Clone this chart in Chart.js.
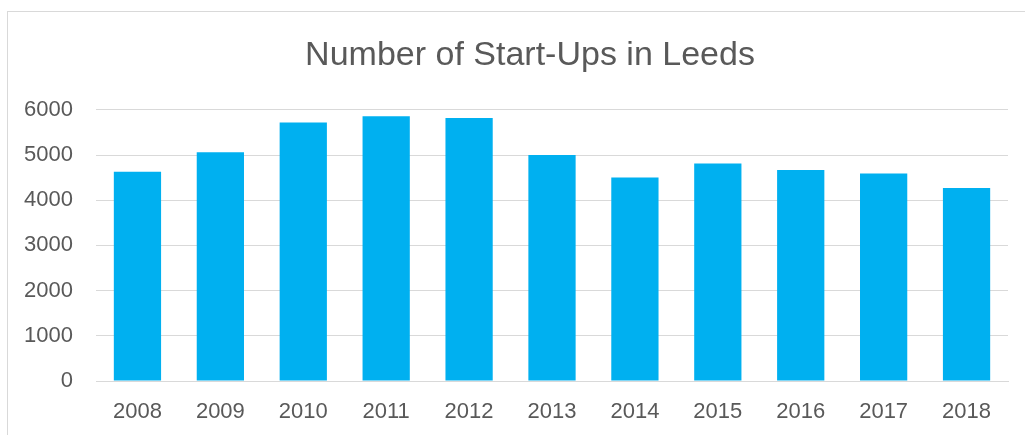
<!DOCTYPE html>
<html>
<head>
<meta charset="utf-8">
<script src="https://cdn.jsdelivr.net/npm/chart.js@4"></script>
<style>
  html, body { margin: 0; padding: 0; background: #fff; }
  #wrap { position: relative; width: 1025px; height: 435px; overflow: hidden; }
  #frame { position: absolute; left: 7px; top: 11px; width: 1030px; height: 440px;
           border-left: 1px solid #d9d9d9; border-top: 1px solid #d9d9d9; }
  canvas { position: absolute; left: 0; top: 0; }
</style>
</head>
<body>
<div id="wrap">
  <div id="frame"></div>
  <canvas id="chart" width="1025" height="435"></canvas>
</div>
<script>
// chart data
const years = ['2008', '2009', '2010', '2011', '2012', '2013', '2014', '2015', '2016', '2017', '2018'];
const startUps = [4630, 5060, 5720, 5860, 5820, 5000, 4500, 4810, 4670, 4590, 4270];
const yTicks = [0, 1000, 2000, 3000, 4000, 5000, 6000];

const textColor = '#595959';
const gridColor = '#d9d9d9';
const fontFamily = '"Liberation Sans", Arial, sans-serif';

// Excel centres the title on the whole chart frame, which sits a bit right of ours
const shiftTitle = {
  id: 'shiftTitle',
  afterLayout(chart) {
    const t = chart.titleBlock;
    if (t) { t.left += 26; t.right += 26; }
  }
};

const ctx = document.getElementById('chart').getContext('2d');

new Chart(ctx, {
  type: 'bar',
  data: {
    labels: years,
    datasets: [{
      label: 'Start-Ups',
      data: startUps,
      backgroundColor: '#00b0f0',
      borderWidth: 0,
      categoryPercentage: 1,
      barPercentage: 0.57
    }]
  },
  options: {
    responsive: false,
    animation: false,
    layout: {
      padding: { left: 0, right: 17, top: 0, bottom: 0 }
    },
    scales: {
      x: {
        afterFit: (scale) => { scale.height = 54; },
        grid: { display: false, drawTicks: false },
        border: { display: true, color: gridColor, width: 1 },
        ticks: {
          color: textColor,
          font: { family: fontFamily, size: 22 },
          padding: 18,
          maxRotation: 0
        }
      },
      y: {
        min: yTicks[0],
        max: yTicks[yTicks.length - 1],
        afterFit: (scale) => { scale.width = 96; },
        afterBuildTicks: (scale) => { scale.ticks = yTicks.map(v => ({ value: v })); },
        grid: { color: gridColor, lineWidth: 1, drawTicks: false },
        border: { display: false },
        ticks: {
          color: textColor,
          font: { family: fontFamily, size: 22 },
          padding: 23,
          callback: (v) => String(v)
        }
      }
    },
    plugins: {
      legend: { display: false },
      tooltip: { enabled: false },
      title: {
        display: true,
        text: 'Number of Start-Ups in Leeds',
        color: textColor,
        font: { family: fontFamily, size: 34, weight: 'normal', lineHeight: 1.2 },
        padding: { top: 35, bottom: 34 }
      }
    }
  },
  plugins: [shiftTitle]
});
</script>
</body>
</html>
